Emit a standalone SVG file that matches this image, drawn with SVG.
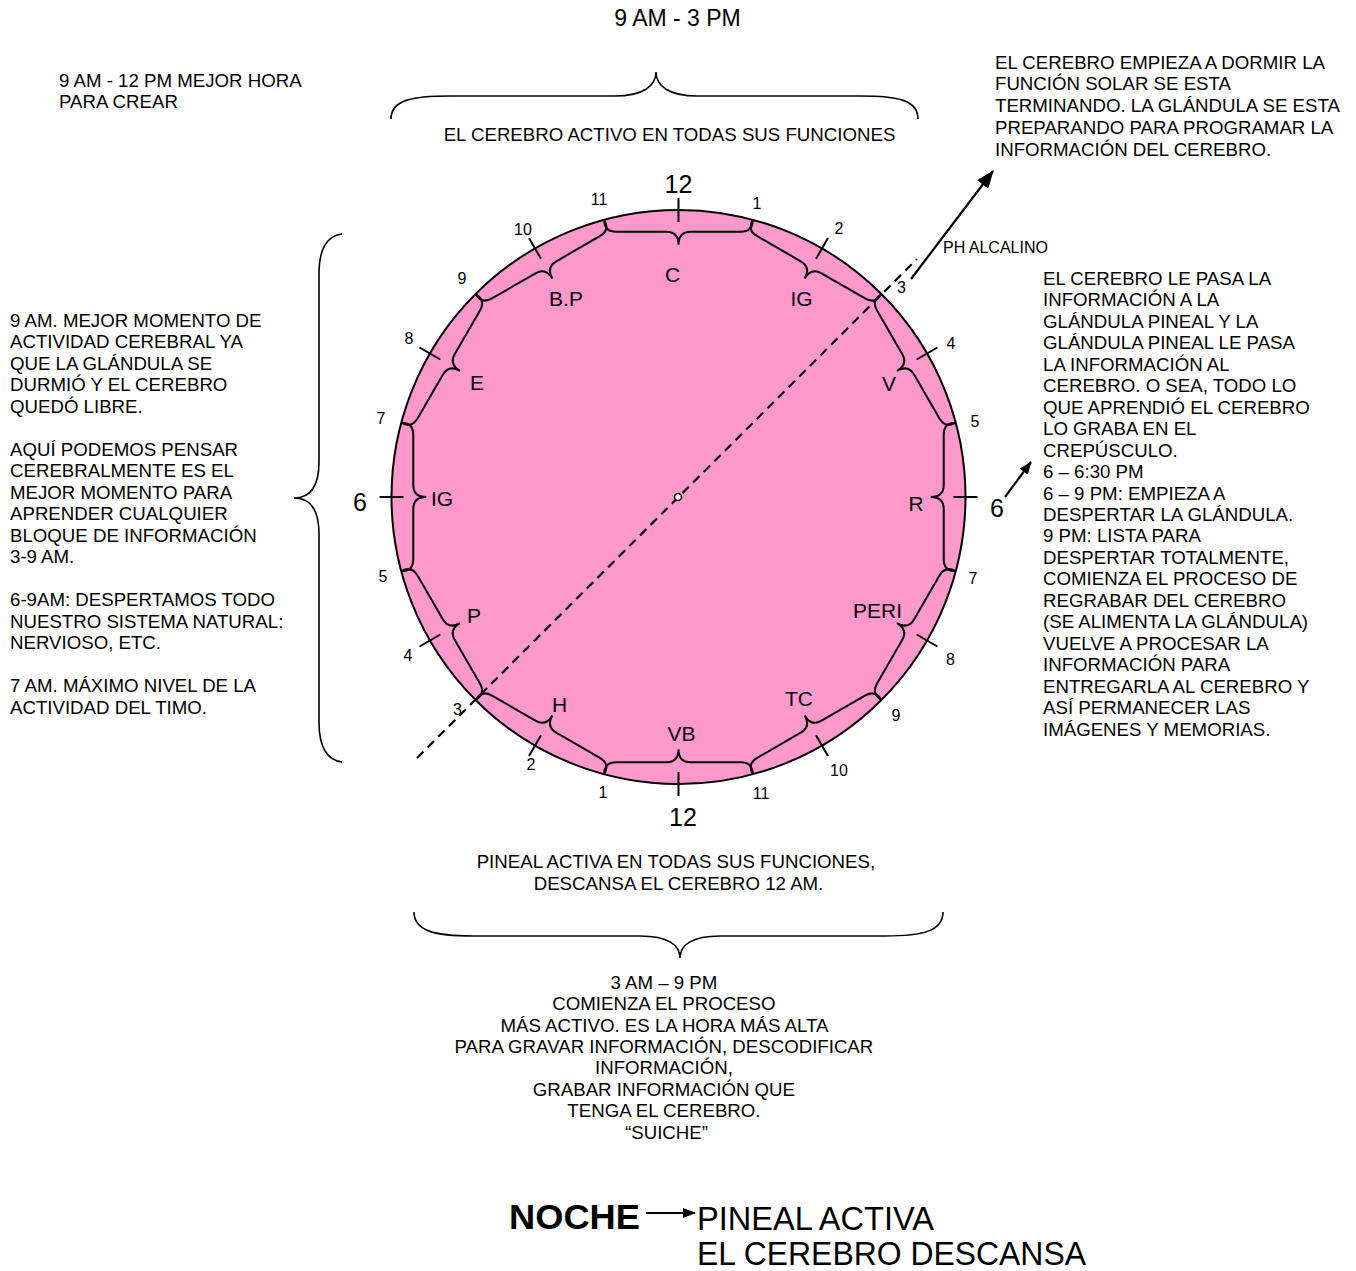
<svg xmlns="http://www.w3.org/2000/svg" xmlns:xlink="http://www.w3.org/1999/xlink" width="1356" height="1271" viewBox="0 0 1356 1271">
<style>
text{font-family:"Liberation Sans",Arial,sans-serif;fill:#000}
.t{font-size:18.67px}
.h{font-size:16px;text-anchor:middle}
.big{font-size:25px;text-anchor:middle}
.lbl{font-size:21px;text-anchor:middle}
.br{fill:none;stroke:#000;stroke-width:2}
.ob{fill:none;stroke:#000;stroke-width:1.6}
.tick{stroke:#000;stroke-width:2}
.ln{stroke:#000;stroke-width:2.2;fill:none}
</style>
<defs>
<path id="brace" class="br" d="M0,0 C0,8 4,12 12,12 L62.29,12 C70.29,12 74.29,17 74.29,25 C74.29,17 78.29,12 86.29,12 L136.57,12 C144.57,12 148.57,8 148.57,0"/>
<line id="tk" x1="0" y1="-299" x2="0" y2="-275" class="tick"/>
<marker id="ah" markerUnits="userSpaceOnUse" markerWidth="18" markerHeight="14" refX="17" refY="7" orient="auto" viewBox="0 0 18 14"><path d="M0,0 L18,7 L0,14 z" fill="#000"/></marker>
<marker id="ahs" markerUnits="userSpaceOnUse" markerWidth="13" markerHeight="10" refX="12" refY="5" orient="auto" viewBox="0 0 13 10"><path d="M0,0 L13,5 L0,10 z" fill="#000"/></marker>
</defs>
<rect width="1356" height="1271" fill="#fff"/>

<g id="clock">
<ellipse cx="678.5" cy="497" rx="287" ry="287" fill="#FF99CC" stroke="#000" stroke-width="2"/>
</g>

<g id="connectors">
<line x1="417" y1="758" x2="917" y2="259" stroke="#000" stroke-width="2.2" stroke-dasharray="9 6"/>
<line x1="911" y1="279" x2="993" y2="171" class="ln" marker-end="url(#ah)"/>
<line x1="1005" y1="497" x2="1031" y2="462" class="ln" marker-end="url(#ahs)"/>
<line x1="646" y1="1213" x2="695" y2="1213" stroke="#000" stroke-width="2" marker-end="url(#ahs)"/>
</g>

<g id="ticks">
<use href="#tk" transform="translate(678.5,497) rotate(0)"/>
<use href="#tk" transform="translate(678.5,497) rotate(30)"/>
<use href="#tk" transform="translate(678.5,497) rotate(60)"/>
<use href="#tk" transform="translate(678.5,497) rotate(90)"/>
<use href="#tk" transform="translate(678.5,497) rotate(120)"/>
<use href="#tk" transform="translate(678.5,497) rotate(150)"/>
<use href="#tk" transform="translate(678.5,497) rotate(180)"/>
<use href="#tk" transform="translate(678.5,497) rotate(210)"/>
<use href="#tk" transform="translate(678.5,497) rotate(240)"/>
<use href="#tk" transform="translate(678.5,497) rotate(270)"/>
<use href="#tk" transform="translate(678.5,497) rotate(300)"/>
<use href="#tk" transform="translate(678.5,497) rotate(330)"/>
</g>

<g id="brace-C"><use href="#brace" transform="translate(604.22,219.78) rotate(0)"/><text class="lbl" x="672.5" y="281.5">C</text></g>
<g id="brace-IG-top"><use href="#brace" transform="translate(752.78,219.78) rotate(30)"/><text class="lbl" x="801.5" y="305.5">IG</text></g>
<g id="brace-V"><use href="#brace" transform="translate(881.44,294.06) rotate(60)"/><text class="lbl" x="889" y="390.5">V</text></g>
<g id="brace-R"><use href="#brace" transform="translate(955.72,422.72) rotate(90)"/><text class="lbl" x="916" y="510.5">R</text></g>
<g id="brace-PERI"><use href="#brace" transform="translate(955.72,571.28) rotate(120)"/><text class="lbl" x="877.5" y="617.5">PERI</text></g>
<g id="brace-TC"><use href="#brace" transform="translate(881.44,699.94) rotate(150)"/><text class="lbl" x="799" y="705.5">TC</text></g>
<g id="brace-VB"><use href="#brace" transform="translate(752.78,774.22) rotate(180)"/><text class="lbl" x="681.5" y="740.5">VB</text></g>
<g id="brace-H"><use href="#brace" transform="translate(604.22,774.22) rotate(210)"/><text class="lbl" x="559.5" y="711.5">H</text></g>
<g id="brace-P"><use href="#brace" transform="translate(475.56,699.94) rotate(240)"/><text class="lbl" x="474" y="623">P</text></g>
<g id="brace-IG-left"><use href="#brace" transform="translate(401.28,571.28) rotate(270)"/><text class="lbl" x="442" y="505.5">IG</text></g>
<g id="brace-E"><use href="#brace" transform="translate(401.28,422.72) rotate(300)"/><text class="lbl" x="477" y="390">E</text></g>
<g id="brace-BP"><use href="#brace" transform="translate(475.56,294.06) rotate(330)"/><text class="lbl" x="566" y="305.5">B.P</text></g>

<g id="center-dot"><circle cx="678" cy="497" r="3.5" fill="#fff" stroke="#000" stroke-width="1.6"/></g>

<g id="hours">
<text class="big" x="678.5" y="193">12</text>
<text class="big" x="683" y="826">12</text>
<text class="big" x="360" y="511">6</text>
<text class="big" x="997" y="517">6</text>
<text class="h" x="599" y="204.7">11</text>
<text class="h" x="757" y="208.7">1</text>
<text class="h" x="523" y="234.7">10</text>
<text class="h" x="839" y="233.7">2</text>
<text class="h" x="462" y="283.7">9</text>
<text class="h" x="901.5" y="293.2">3</text>
<text class="h" x="409" y="343.7">8</text>
<text class="h" x="951" y="348.7">4</text>
<text class="h" x="381" y="423.7">7</text>
<text class="h" x="975" y="426.7">5</text>
<text class="h" x="383" y="581.7">5</text>
<text class="h" x="973" y="583.7">7</text>
<text class="h" x="408" y="660.7">4</text>
<text class="h" x="950.5" y="664.7">8</text>
<text class="h" x="457.5" y="715.3">3</text>
<text class="h" x="896" y="720.8">9</text>
<text class="h" x="531" y="769.8">2</text>
<text class="h" x="839" y="775.8">10</text>
<text class="h" x="603" y="797.8">1</text>
<text class="h" x="761" y="798.8">11</text>
</g>

<g id="outer-braces">
<path class="ob" d="M391,119 C391,100 412,96 450,96 L615,96 C643,96 656,86 656,72 C656,86 669,96 697,96 L860,96 C898,96 918,100 918,119"/>
<path class="ob" d="M414,912 C414,931 435,936 473,936 L640,936 C668,936 680,945 680,958 C680,945 692,936 720,936 L885,936 C923,936 943,931 943,912"/>
<path class="ob" d="M342,234 C326,236 319,250 319,274 L319,462 C319,486 310,498 294,498 C310,498 319,510 319,534 L319,722 C319,746 326,760 342,762"/>
</g>

<g id="title"><text x="677.5" y="26.2" style="font-size:23px;text-anchor:middle">9 AM - 3 PM</text></g>
<g id="top-label"><text class="t" x="669.5" y="140.7" text-anchor="middle">EL CEREBRO ACTIVO EN TODAS SUS FUNCIONES</text></g>
<g id="note-top-left"><text class="t" x="59" y="86.7"><tspan x="59">9 AM - 12 PM MEJOR HORA</tspan><tspan x="59" dy="21.3">PARA CREAR</tspan></text></g>
<g id="ph"><text x="943" y="252.7" style="font-size:16px">PH ALCALINO</text></g>

<g id="note-top-right"><text class="t" x="995" y="68.7">
<tspan x="995">EL CEREBRO EMPIEZA A DORMIR LA</tspan>
<tspan x="995" dy="21.7">FUNCIÓN SOLAR SE ESTA</tspan>
<tspan x="995" dy="21.7">TERMINANDO. LA GLÁNDULA SE ESTA</tspan>
<tspan x="995" dy="21.7">PREPARANDO PARA PROGRAMAR LA</tspan>
<tspan x="995" dy="21.7">INFORMACIÓN DEL CEREBRO.</tspan>
</text></g>

<g id="note-right"><text class="t" x="1043" y="284.7">
<tspan x="1043">EL CEREBRO LE PASA LA</tspan>
<tspan x="1043" dy="21.48">INFORMACIÓN A LA</tspan>
<tspan x="1043" dy="21.48">GLÁNDULA PINEAL Y LA</tspan>
<tspan x="1043" dy="21.48">GLÁNDULA PINEAL LE PASA</tspan>
<tspan x="1043" dy="21.48">LA INFORMACIÓN AL</tspan>
<tspan x="1043" dy="21.48">CEREBRO. O SEA, TODO LO</tspan>
<tspan x="1043" dy="21.48">QUE APRENDIÓ EL CEREBRO</tspan>
<tspan x="1043" dy="21.48">LO GRABA EN EL</tspan>
<tspan x="1043" dy="21.48">CREPÚSCULO.</tspan>
<tspan x="1043" dy="21.48">6 – 6:30 PM</tspan>
<tspan x="1043" dy="21.48">6 – 9 PM: EMPIEZA A</tspan>
<tspan x="1043" dy="21.48">DESPERTAR LA GLÁNDULA.</tspan>
<tspan x="1043" dy="21.48">9 PM: LISTA PARA</tspan>
<tspan x="1043" dy="21.48">DESPERTAR TOTALMENTE,</tspan>
<tspan x="1043" dy="21.48">COMIENZA EL PROCESO DE</tspan>
<tspan x="1043" dy="21.48">REGRABAR DEL CEREBRO</tspan>
<tspan x="1043" dy="21.48">(SE ALIMENTA LA GLÁNDULA)</tspan>
<tspan x="1043" dy="21.48">VUELVE A PROCESAR LA</tspan>
<tspan x="1043" dy="21.48">INFORMACIÓN PARA</tspan>
<tspan x="1043" dy="21.48">ENTREGARLA AL CEREBRO Y</tspan>
<tspan x="1043" dy="21.48">ASÍ PERMANECER LAS</tspan>
<tspan x="1043" dy="21.48">IMÁGENES Y MEMORIAS.</tspan>
</text></g>

<g id="note-left"><text class="t" x="10" y="326.7">
<tspan x="10">9 AM. MEJOR MOMENTO DE</tspan>
<tspan x="10" dy="21.5">ACTIVIDAD CEREBRAL YA</tspan>
<tspan x="10" dy="21.5">QUE LA GLÁNDULA SE</tspan>
<tspan x="10" dy="21.5">DURMIÓ Y EL CEREBRO</tspan>
<tspan x="10" dy="21.5">QUEDÓ LIBRE.</tspan>
<tspan x="10" dy="43">AQUÍ PODEMOS PENSAR</tspan>
<tspan x="10" dy="21.5">CEREBRALMENTE ES EL</tspan>
<tspan x="10" dy="21.5">MEJOR MOMENTO PARA</tspan>
<tspan x="10" dy="21.5">APRENDER CUALQUIER</tspan>
<tspan x="10" dy="21.5">BLOQUE DE INFORMACIÓN</tspan>
<tspan x="10" dy="21.5">3-9 AM.</tspan>
<tspan x="10" dy="43">6-9AM: DESPERTAMOS TODO</tspan>
<tspan x="10" dy="21.5">NUESTRO SISTEMA NATURAL:</tspan>
<tspan x="10" dy="21.5">NERVIOSO, ETC.</tspan>
<tspan x="10" dy="43">7 AM. MÁXIMO NIVEL DE LA</tspan>
<tspan x="10" dy="21.5">ACTIVIDAD DEL TIMO.</tspan>
</text></g>

<g id="note-bottom-top"><text class="t" text-anchor="middle" x="678.5" y="867.7">
<tspan x="678.5">PINEAL ACTIVA EN TODAS SUS FUNCIONES,</tspan>
<tspan x="678.5" dy="22">DESCANSA EL CEREBRO 12 AM.</tspan>
</text></g>

<g id="note-bottom"><text class="t" text-anchor="middle" x="666.5" y="988.7">
<tspan x="666.5">3 AM – 9 PM</tspan>
<tspan x="666.5" dy="21.43">COMIENZA EL PROCESO</tspan>
<tspan x="666.5" dy="21.43">MÁS ACTIVO. ES LA HORA MÁS ALTA</tspan>
<tspan x="666.5" dy="21.43">PARA GRAVAR INFORMACIÓN, DESCODIFICAR</tspan>
<tspan x="666.5" dy="21.43">INFORMACIÓN,</tspan>
<tspan x="666.5" dy="21.43">GRABAR INFORMACIÓN QUE</tspan>
<tspan x="666.5" dy="21.43">TENGA EL CEREBRO.</tspan>
<tspan x="666.5" dy="21.43">“SUICHE”</tspan>
</text></g>

<g id="legend">
<text x="509" y="1229" style="font-size:35px;font-weight:bold" textLength="131" lengthAdjust="spacingAndGlyphs">NOCHE</text>
<text x="697" y="1230" style="font-size:34px" textLength="237" lengthAdjust="spacingAndGlyphs">PINEAL ACTIVA</text>
<text x="697" y="1265" style="font-size:34px" textLength="389" lengthAdjust="spacingAndGlyphs">EL CEREBRO DESCANSA</text>
</g>
</svg>
